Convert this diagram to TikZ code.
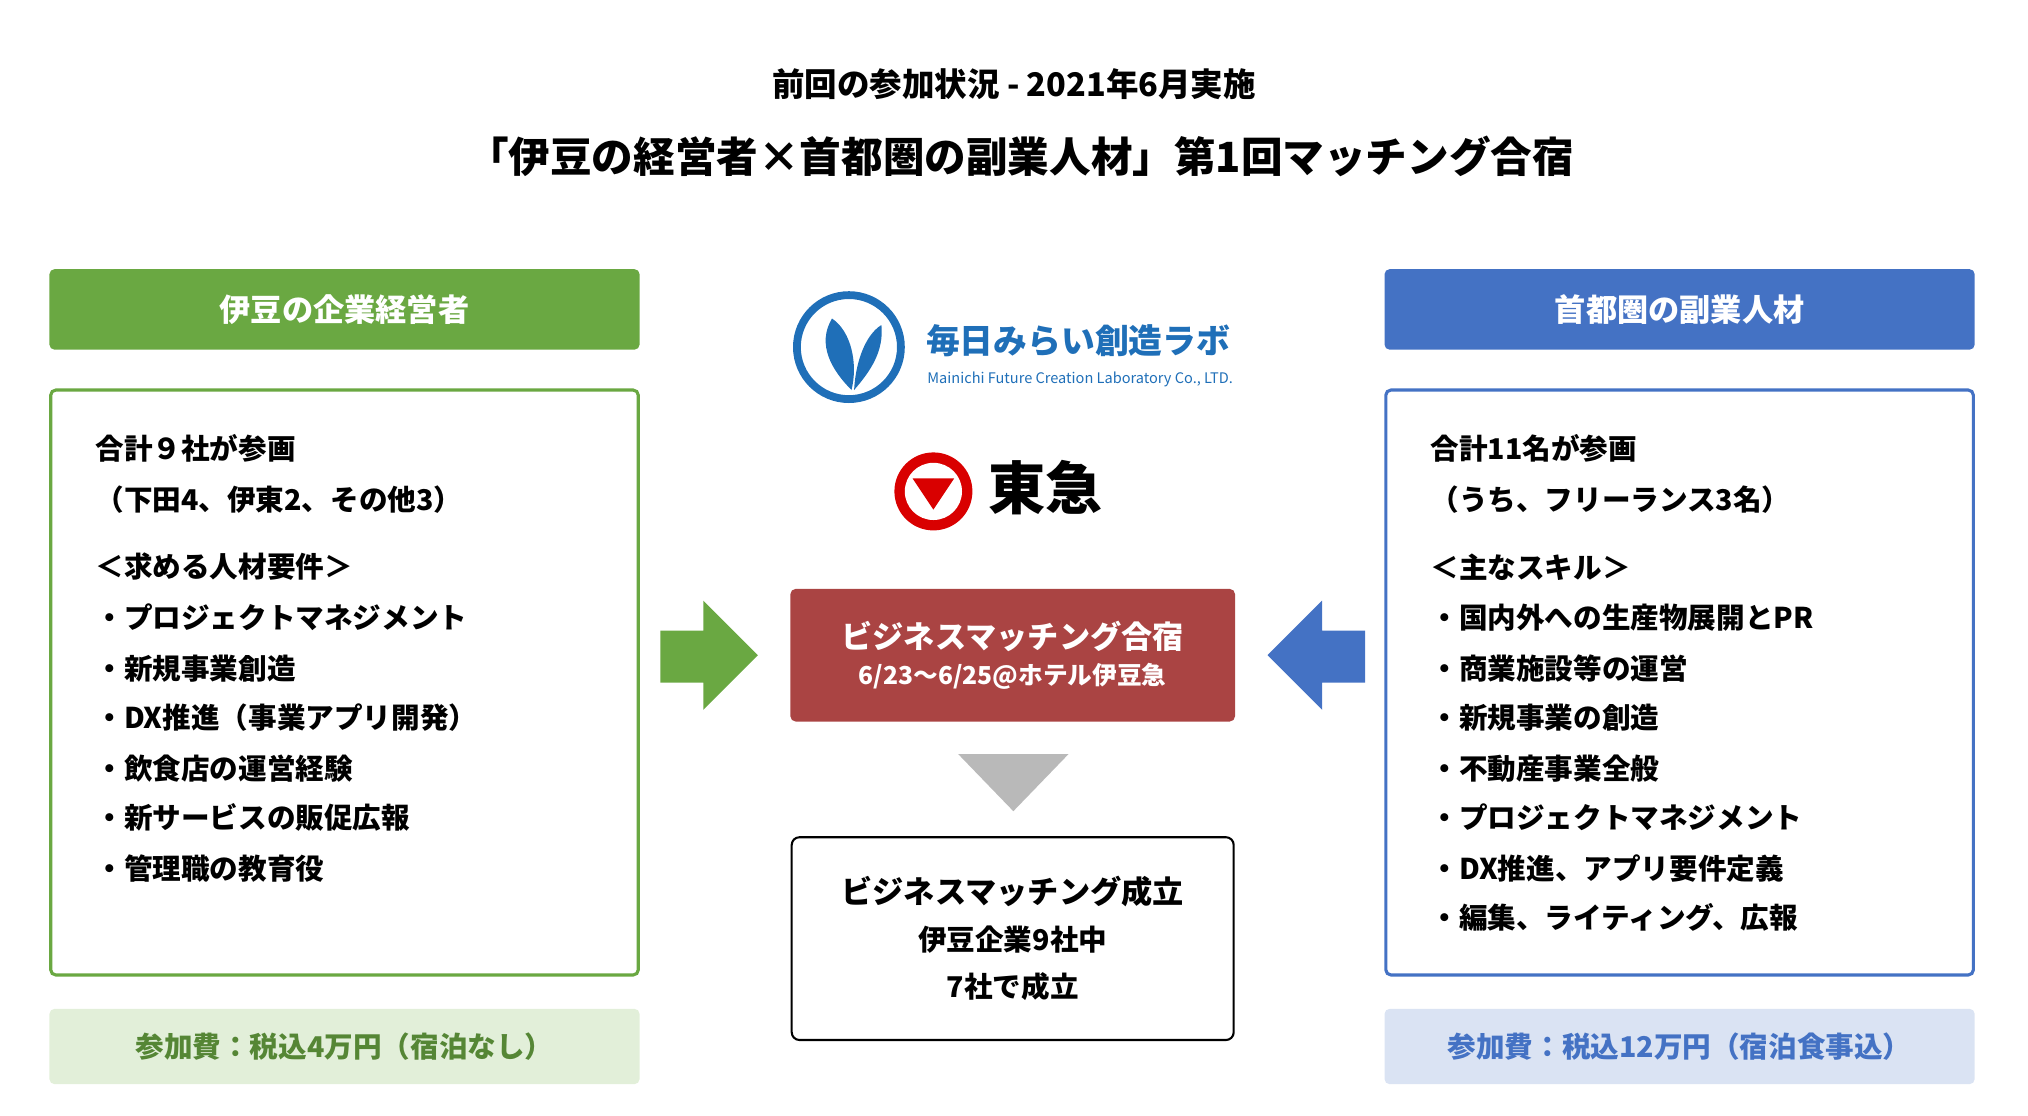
\documentclass[tikz,border=0pt]{standalone}
\usepackage{fontspec}
\setmainfont{Noto Sans CJK JP}
\begin{document}
\begin{tikzpicture}[x=0.5pt,y=-0.5pt,
 hdr/.style={rounded corners=2pt,minimum width=227pt,minimum height=31pt,text=white,font=\bfseries\fontsize{12}{14}\selectfont,anchor=north west,outer sep=0pt},
 box/.style={rounded corners=2pt,line width=1.2pt,minimum width=226pt,minimum height=225pt,anchor=north west,outer sep=0pt},
 fee/.style={rounded corners=2pt,minimum width=227pt,minimum height=29pt,font=\bfseries\fontsize{11}{13}\selectfont,anchor=north west,outer sep=0pt},
 ln/.style={anchor=west,font=\bfseries\fontsize{11}{13}\selectfont,inner sep=0pt}]
\useasboundingbox (0,0) rectangle (1560,858);
\definecolor{gr}{HTML}{6AA842}\definecolor{bl}{HTML}{4472C4}
\definecolor{rd}{HTML}{AA4443}\definecolor{lgr}{HTML}{E2EFD9}\definecolor{lbl}{HTML}{DAE3F3}
\definecolor{lb}{HTML}{1F6FB8}
\node[font=\bfseries\fontsize{12.5}{15}\selectfont] (t1) at (780,65) {前回の参加状況 - 2021年6月実施};
\node[font=\bfseries\fontsize{16}{19}\selectfont] (t2) at (785,120) {「伊豆の経営者×首都圏の副業人材」第1回マッチング合宿};
% left
\node[hdr,fill=gr] (lh) at (38,207) {伊豆の企業経営者};
\node[box,draw=gr] (lb) at (39,300) {};
\node[fee,fill=lgr,text=gr!80!black] (lf) at (38,776) {参加費：税込4万円（宿泊なし）};
\foreach \t/\y in {合計９社が参画/345,（下田4、伊東2、その他3）/384,＜求める人材要件＞/436,・プロジェクトマネジメント/475,・新規事業創造/514,・DX推進（事業アプリ開発）/552,・飲食店の運営経験/591,・新サービスの販促広報/629,・管理職の教育役/668}
  \node[ln] at (73,\y) {\t};
% right
\node[hdr,fill=bl] (rh) at (1065,207) {首都圏の副業人材};
\node[box,draw=bl] (rb) at (1066,300) {};
\node[fee,fill=lbl,text=bl] (rf) at (1065,776) {参加費：税込12万円（宿泊食事込）};
\foreach \t/\y in {合計11名が参画/345,（うち、フリーランス3名）/384,＜主なスキル＞/436,・国内外への生産物展開とPR/475,・商業施設等の運営/514,・新規事業の創造/552,・不動産事業全般/591,・プロジェクトマネジメント/629,・DX推進、アプリ要件定義/668,・編集、ライティング、広報/706}
  \node[ln] at (1100,\y) {\t};
% center
\node[fill=rd,rounded corners=2pt,minimum width=171pt,minimum height=51pt,anchor=north west,text=white,align=center,outer sep=0pt] (rbx) at (608,453)
 {{\bfseries\fontsize{12}{14}\selectfont ビジネスマッチング合宿}\\[2pt]{\bfseries\fontsize{9.5}{11}\selectfont 6/23～6/25@ホテル伊豆急}};
\fill[gray!55] (737,580) -- (822,580) -- (779.5,624) -- cycle;
\node[draw=black,line width=0.8pt,rounded corners=3pt,minimum width=170pt,minimum height=78pt,anchor=north west,align=center,outer sep=0pt] (res) at (609,644)
 {{\bfseries\fontsize{12}{14}\selectfont ビジネスマッチング成立}\\[6pt]{\bfseries\fontsize{11}{13}\selectfont 伊豆企業9社中}\\[6pt]{\bfseries\fontsize{11}{13}\selectfont 7社で成立}};
\fill[gr] (508,485) -- (541,485) -- (541,462) -- (583,504) -- (541,546) -- (541,525) -- (508,525) -- cycle;
\fill[bl] (1050,485) -- (1017,485) -- (1017,462) -- (975,504) -- (1017,546) -- (1017,525) -- (1050,525) -- cycle;
% logos
\draw[lb,line width=3pt] (653,267) circle (40);
\fill[lb] (655,300) .. controls (640,285) and (628,265) .. (640,245) .. controls (655,255) and (660,280) .. (655,300) -- cycle;
\fill[lb] (657,300) .. controls (670,285) and (680,270) .. (678,250) .. controls (665,258) and (658,280) .. (657,300) -- cycle;
\node[lb,font=\bfseries\fontsize{13}{15}\selectfont,anchor=west,inner sep=0pt] (ml) at (712,262) {毎日みらい創造ラボ};
\node[lb,font=\fontsize{5.6}{7}\selectfont,anchor=west,inner sep=0pt] (ms) at (713,292) {Mainichi Future Creation Laboratory Co., LTD.};
\fill[red!85!black] (718,378) circle (30);
\fill[white] (718,378) circle (22);
\fill[red!85!black] (702,368) -- (734,368) -- (718,392) -- cycle;
\node[font=\bfseries\fontsize{22}{26}\selectfont,anchor=west,inner sep=0pt] (tk) at (760,375) {東急};
\end{tikzpicture}
\end{document}
